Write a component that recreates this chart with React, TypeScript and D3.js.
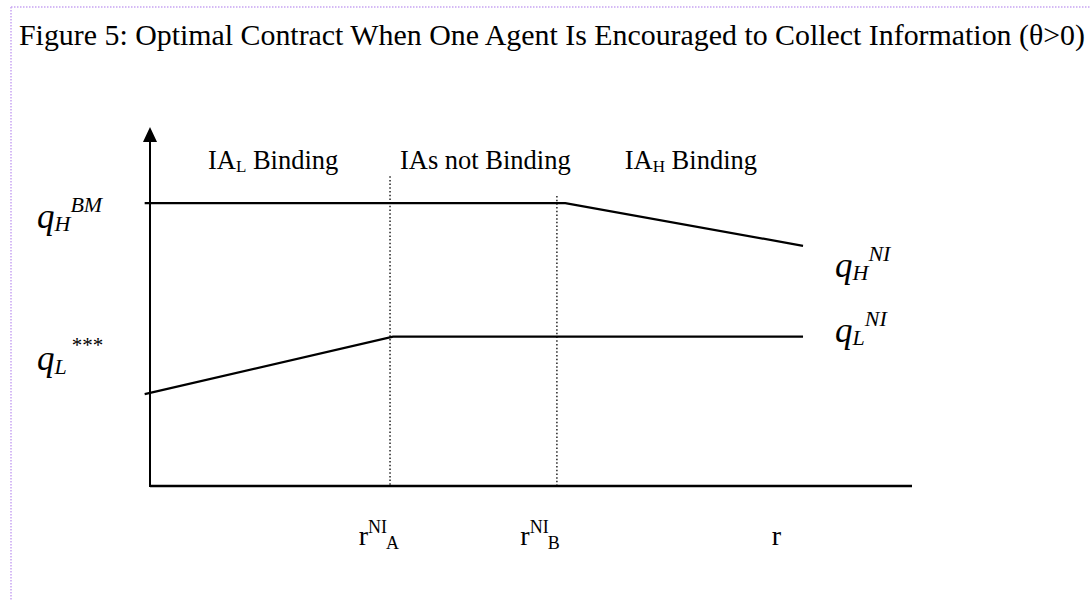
import React from 'react'
import { scaleLinear, line } from 'd3'

// quantities on the r axis (0..100) and q axis (0..100)
const qHigh = [
  { r: -0.7, q: 78.8 },
  { r: 54.5, q: 78.8 },
  { r: 85.7, q: 66.9 },
]
const qLow = [
  { r: -0.7, q: 25.6 },
  { r: 31.9, q: 41.6 },
  { r: 85.7, q: 41.6 },
]
const regimeCuts = [
  { r: 31.5, top: 86.3 },
  { r: 53.4, top: 80.8 },
]
const regimeLabels = [
  { r: 7.6, main: 'IA', sub: 'L', rest: ' Binding' },
  { r: 32.8, main: 'IAs not Binding', sub: '', rest: '' },
  { r: 62.3, main: 'IA', sub: 'H', rest: ' Binding' },
]
const rTicks = [
  { r: 27.4, sup: 'NI', sub: 'A' },
  { r: 48.6, sup: 'NI', sub: 'B' },
  { r: 81.6, sup: '', sub: '' },
]

const title = 'Figure 5: Optimal Contract When One Agent Is Encouraged to Collect Information (θ>0)'

export default function App() {
  const width = 1091
  const height = 601
  const x = scaleLinear().domain([0, 100]).range([150, 912])
  const y = scaleLinear().domain([0, 100]).range([486, 127])
  const path = line<{ r: number; q: number }>()
    .x(d => x(d.r))
    .y(d => y(d.q))

  const serif = '"Liberation Serif", "Times New Roman", serif'

  return (
    <svg
      width={width}
      height={height}
      style={{ position: 'absolute', left: 0, top: 0, background: '#fff' }}
      fontFamily={serif}
    >
      {/* page frame */}
      <line x1={11} y1={7} x2={width} y2={7} stroke="#c7a4f2" strokeWidth={1.5} strokeDasharray="1.5 1.5" />
      <line x1={11} y1={7} x2={11} y2={height} stroke="#c7a4f2" strokeWidth={1.5} strokeDasharray="1.5 1.5" />

      <text x={19} y={45} fontSize={29.5} fill="#000" textLength={1066} lengthAdjust="spacingAndGlyphs">{title}</text>

      {/* axes */}
      <line x1={x(0)} y1={y(0)} x2={x(100)} y2={y(0)} stroke="#000" strokeWidth={2.5} />
      <line x1={x(0)} y1={y(0) + 1} x2={x(0)} y2={y(100) + 10} stroke="#000" strokeWidth={2} />
      <path d={`M${x(0)},${y(100)} L${x(0) - 7},${y(100) + 15} L${x(0) + 7},${y(100) + 15} Z`} fill="#000" />

      {regimeCuts.map((c, i) => (
        <line key={i} x1={x(c.r)} y1={y(c.top)} x2={x(c.r)} y2={y(0)} stroke="#000" strokeWidth={1.3} strokeDasharray="1.5 2.2" />
      ))}

      <path d={path(qHigh) ?? ''} fill="none" stroke="#000" strokeWidth={2.2} />
      <path d={path(qLow) ?? ''} fill="none" stroke="#000" strokeWidth={2.2} />

      {regimeLabels.map((l, i) => (
        <text key={i} x={x(l.r)} y={169} fontSize={26.5}>
          {l.main}
          {l.sub && <tspan fontSize={17} dy={3}>{l.sub}</tspan>}
          {l.rest && <tspan dy={l.sub ? -3 : 0}>{l.rest}</tspan>}
        </text>
      ))}

      {/* left q labels */}
      <text x={37} y={228} fontSize={35} fontStyle="italic">
        q<tspan fontSize={22} dy={3}>H</tspan><tspan fontSize={22} dy={-19}>BM</tspan>
      </text>
      <text x={37} y={370} fontSize={35} fontStyle="italic">
        q<tspan fontSize={22} dy={4}>L</tspan><tspan fontSize={21} fontStyle="normal" dx={5} dy={-22}>***</tspan>
      </text>

      {/* right q labels */}
      <text x={835} y={277} fontSize={35} fontStyle="italic">
        q<tspan fontSize={22} dy={3}>H</tspan><tspan fontSize={22} dy={-19}>NI</tspan>
      </text>
      <text x={835} y={342} fontSize={35} fontStyle="italic">
        q<tspan fontSize={22} dy={3}>L</tspan><tspan fontSize={22} dy={-19}>NI</tspan>
      </text>

      {/* r labels */}
      {rTicks.map((t, i) => (
        <text key={i} x={x(t.r)} y={545} fontSize={28}>
          r
          {t.sup && <tspan fontSize={18} dy={-12}>{t.sup}</tspan>}
          {t.sub && <tspan fontSize={18} dy={16} dx={-1}>{t.sub}</tspan>}
        </text>
      ))}
    </svg>
  )
}
